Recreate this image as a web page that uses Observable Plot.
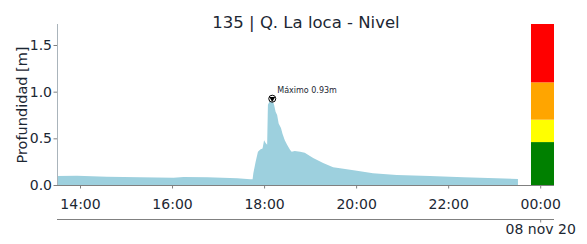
<!DOCTYPE html>
<html><head><meta charset="utf-8">
<script src="https://cdn.jsdelivr.net/npm/d3@7"></script>
<script src="https://cdn.jsdelivr.net/npm/@observablehq/plot@0.6"></script>
<style>body{margin:0;background:#fff}</style>
</head><body><div id="chart"></div>
<script>
const title = "135 | Q. La loca - Nivel";
const yLabel = "Profundidad [m]";
const dateLabel = "08 nov 20";
const dateTick = "00:00";
const peakLabel = "Máximo 0.93m";
const peakTime = "18:10";
const peakValue = 0.93;

const times = ["13:30","13:56","14:35","15:18","16:02","16:15","16:46","17:25","17:42","17:45","17:46","17:49","17:52","17:55","17:58","18:00","18:02","18:04","18:05","18:08","18:10","18:13","18:15","18:17","18:19","18:22","18:24","18:27","18:30","18:34","18:36","18:40","18:47","18:53","19:04","19:17","19:30","19:39","20:01","20:22","20:53","21:36","22:20","23:03","23:31"];
const depths = [0.096,0.10,0.089,0.082,0.078,0.086,0.082,0.071,0.061,0.061,0.125,0.25,0.357,0.38,0.39,0.48,0.45,0.43,0.86,0.91,0.93,0.86,0.785,0.75,0.66,0.61,0.55,0.48,0.43,0.375,0.357,0.364,0.357,0.346,0.29,0.235,0.19,0.18,0.153,0.125,0.107,0.096,0.082,0.072,0.064];

const xTicks = ["14:00","16:00","18:00","20:00","22:00","00:00"];
const yTicks = [0, 0.5, 1.0, 1.5];
const xDomain = ["13:30","00:18"];
const yDomain = [0, 1.725];

const levelLows = [0, 0.46, 0.7, 1.1];
const levelHighs = [0.46, 0.7, 1.1, 1.725];
const levelColors = ["green", "yellow", "orange", "red"];
const levelStart = "23:48";
const levelEnd = "00:18";

function toDate(s) {
  const [h, m] = s.split(":").map(Number);
  return new Date(Date.UTC(2020, 10, h < 12 ? 8 : 7, h, m));
}

const data = times.map((t, i) => ({t: toDate(t), v: depths[i]}));
const levels = levelLows.map((lo, i) => ({x1: toDate(levelStart), x2: toDate(levelEnd), y1: lo, y2: levelHighs[i], c: levelColors[i]}));
const peak = [{t: toDate(peakTime), v: peakValue, label: peakLabel}];
const textColor = "#1c2733";
const fontFamily = "DejaVu Sans, sans-serif";

const chart = Plot.plot({
  width: 587, height: 244,
  marginLeft: 57, marginRight: 33, marginTop: 24, marginBottom: 59,
  style: {fontFamily, fontSize: "14px", color: textColor, background: "#fff"},
  x: {type: "utc", domain: xDomain.map(toDate), axis: null},
  y: {domain: yDomain, axis: null},
  marks: [
    Plot.rect(levels, {x1: "x1", x2: "x2", y1: "y1", y2: "y2", fill: "c"}),
    Plot.areaY(data, {x: "t", y: "v", fill: "#9dd0de"}),
    Plot.ruleX([toDate(xDomain[0])], {stroke: "#aab4bb"}),
    Plot.ruleY([0], {stroke: "#808080"}),
    Plot.axisX({ticks: xTicks.map(toDate), tickFormat: d3.utcFormat("%H:%M"), tickSize: 3.5, tickPadding: 10, stroke: "#808080", fill: textColor, label: null, fontSize: 14}),
    Plot.axisY({ticks: yTicks, tickFormat: ".1f", tickSize: 3.5, tickPadding: 2, stroke: "#808080", fill: textColor, label: null, fontSize: 14}),
    Plot.ruleY([0], {dy: 34, stroke: "#808080"}),
    Plot.ruleX([toDate(dateTick)], {y1: 0, y2: 0, dy: 34, insetBottom: -3.5, stroke: "#808080"}),
    Plot.text([dateLabel], {x: () => toDate(dateTick), y: () => 0, text: d => d, dy: 44, fontSize: 14, fill: textColor}),
    Plot.dot(peak, {x: "t", y: "v", r: 3.5, fill: "white", stroke: "black", strokeWidth: 1}),
    Plot.dot(peak, {x: "t", y: "v", r: 2.2, symbol: "triangle", rotate: 180, fill: "black"}),
    Plot.text(peak, {x: "t", y: "v", text: "label", dx: 5, dy: -8, textAnchor: "start", fontSize: 8, fill: textColor}),
    Plot.text([title], {frameAnchor: "top", dy: -8, fontSize: 16.5, fill: textColor}),
    Plot.text([yLabel], {frameAnchor: "left", textAnchor: "middle", rotate: -90, dx: -35, fontSize: 14.5, fill: textColor})
  ]
});
document.getElementById("chart").append(chart);
</script>
</body></html>
